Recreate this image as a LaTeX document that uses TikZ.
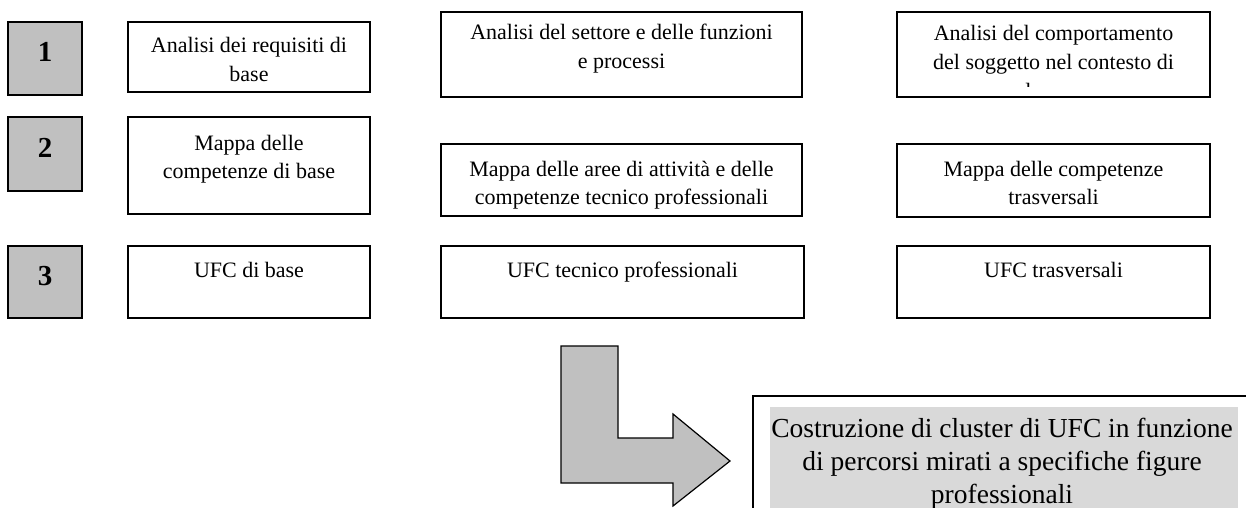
\documentclass[tikz,border=0pt]{standalone}
\usepackage{fontspec}
\setmainfont{Liberation Serif}
\usetikzlibrary{fit}
\definecolor{boxgray}{HTML}{C0C0C0}
\definecolor{hlgray}{HTML}{D9D9D9}
\tikzset{
  box/.style={draw=black, line width=1.6pt, inner sep=0pt, outer sep=0pt},
  numbox/.style={box, fill=boxgray},
  txt/.style={anchor=base, inner sep=0pt, font=\fontsize{22}{29}\selectfont},
  txtb/.style={anchor=base, inner sep=0pt, font=\fontsize{22}{28}\selectfont},
  numtxt/.style={anchor=base, inner sep=0pt, font=\fontsize{29}{29}\selectfont\bfseries},
  bigtxt/.style={anchor=base, inner sep=0pt, font=\fontsize{27.5}{33}\selectfont},
  arrowshape/.style={draw=black, line width=1.2pt, fill=boxgray, line join=miter},
}
\newcommand\mylines[1]{\begin{tabular}[t]{@{}c@{}}#1\end{tabular}}
\begin{document}
\begin{tikzpicture}[x=1pt,y=-1pt]
\useasboundingbox (0,0) rectangle (1246,508);
% number boxes
\node[numbox, fit={(8,22) (82,95)}] (n1) {};
\node[numtxt] (n1t) at (45,62) {1};
\node[numbox, fit={(8,117) (82,191)}] (n2) {};
\node[numtxt] (n2t) at (45,157) {2};
\node[numbox, fit={(8,246) (82,318)}] (n3) {};
\node[numtxt] (n3t) at (45,285) {3};
% row 1
\node[box, fit={(128,22) (370,92)}] (b11) {};
\node[txt] (t11) at (249,53) {\mylines{Analisi dei requisiti di\\base}};
\node[box, fit={(441,12) (802,97)}] (b12) {};
\node[txt] (t12) at (621.5,40) {\mylines{Analisi del settore e delle funzioni\\e processi}};
\node[box, fit={(897,12) (1210,97)}] (b13) {};
\begin{scope}
  \clip (897,12) rectangle (1210,87);
  \node[txt] (t13) at (1053.5,41) {\mylines{Analisi del comportamento\\del soggetto nel contesto di\\lavoro}};
\end{scope}
% row 2
\node[box, fit={(128,117) (370,214)}] (b21) {};
\node[txtb] (t21) at (249,150) {\mylines{Mappa delle\\competenze di base}};
\node[box, fit={(441,144) (802,216)}] (b22) {};
\node[txtb] (t22) at (621.5,176) {\mylines{Mappa delle aree di attività e delle\\competenze tecnico professionali}};
\node[box, fit={(897,144) (1210,217)}] (b23) {};
\node[txtb] (t23) at (1053.5,176) {\mylines{Mappa delle competenze\\trasversali}};
% row 3
\node[box, fit={(128,246) (370,318)}] (b31) {};
\node[txt] (t31) at (249,277) {UFC di base};
\node[box, fit={(441,246) (804,318)}] (b32) {};
\node[txt] (t32) at (622.5,277) {UFC tecnico professionali};
\node[box, fit={(897,246) (1210,318)}] (b33) {};
\node[txt] (t33) at (1053.5,277) {UFC trasversali};
% bent arrow
\draw[arrowshape] (561,346) -- (618,346) -- (618,438) -- (673,438) -- (673,414)
  -- (730,461) -- (673,506) -- (673,483) -- (561,483) -- cycle;
% final box
\begin{scope}
  \clip (0,0) rectangle (1246,508);
  \node[box, fit={(753,396) (1275,540)}] (b4) {};
  \fill[hlgray] (770,407) rectangle (1238,540);
  \node[bigtxt] (t4) at (1002,437) {\mylines{Costruzione di cluster di UFC in funzione\\di percorsi mirati a specifiche figure\\professionali}};
\end{scope}
\end{tikzpicture}
\end{document}
